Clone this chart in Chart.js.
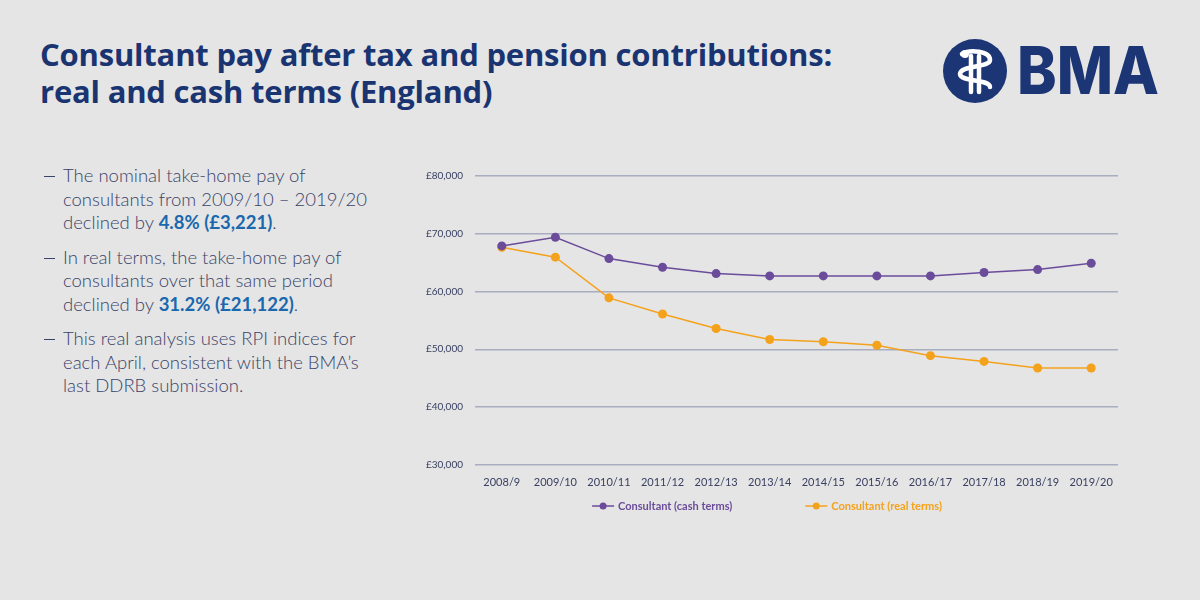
<!DOCTYPE html>
<html>
<head>
<meta charset="utf-8">
<script src="https://cdn.jsdelivr.net/npm/chart.js@4"></script>
<style>
  html, body { margin: 0; padding: 0; }
  body { width: 1200px; height: 600px; background: #e5e5e5; position: relative; overflow: hidden; font-family: Lato, "Open Sans", sans-serif; }
  h1 { position: absolute; left: 40px; top: 36px; margin: 0; font: 700 31px/37px "Open Sans", sans-serif; color: #1a3471; letter-spacing: -0.2px; }
  .notes { position: absolute; left: 42px; top: 164px; width: 340px; margin: 0; padding: 0; list-style: none; }
  .notes li { position: relative; padding-left: 21px; margin-bottom: 11px; font: 300 18.5px/23.5px Lato, sans-serif; color: #3a4368; }
  .notes li::before { content: ""; position: absolute; left: 2px; top: 12px; width: 11px; height: 1.3px; background: #3a4368; }
  .notes b { font-weight: 700; color: #1a68ad; }
  #logo { position: absolute; left: 940px; top: 36px; }
  #wrap { position: absolute; left: 400px; top: 150px; width: 740px; height: 390px; }
</style>
</head>
<body>
<h1>Consultant pay after tax and pension contributions:<br>real and cash terms (England)</h1>
<ul class="notes">
  <li>The nominal take-home pay of consultants from 2009/10 – 2019/20 declined by <b>4.8% (£3,221)</b>.</li>
  <li>In real terms, the take-home pay of consultants over that same period declined by <b>31.2% (£21,122)</b>.</li>
  <li>This real analysis uses RPI indices for each April, consistent with the BMA’s last DDRB submission.</li>
</ul>
<svg id="logo" width="225" height="72" viewBox="0 0 225 72">
  <circle cx="35" cy="35" r="32" fill="#1c3574"/>
  <g fill="none" stroke="#fff" stroke-width="4.5" stroke-linecap="round">
    <line x1="31" y1="20" x2="31" y2="56"/>
    <line x1="39" y1="20" x2="39" y2="56"/>
    <path d="M22 18 C 30 13, 50 15, 50 24 C 50 32, 20 29, 20 38 C 20 46, 50 43, 50 51"/>
  </g>
  <circle cx="25" cy="18" r="4" fill="#fff"/>
  <text x="77" y="58" font-family="Inter, sans-serif" font-weight="800" font-size="66" fill="#1c3574" textLength="142" lengthAdjust="spacingAndGlyphs">BMA</text>
</svg>
<div id="wrap"><canvas id="chart"></canvas></div>
<script>
const years = ['2008/9', '2009/10', '2010/11', '2011/12', '2012/13', '2013/14', '2014/15', '2015/16', '2016/17', '2017/18', '2018/19', '2019/20'];
const cashTerms = [67900, 69400, 65700, 64200, 63100, 62700, 62700, 62700, 62700, 63300, 63800, 64900];
const realTerms = [67650, 65950, 58900, 56100, 53600, 51700, 51300, 50700, 48900, 47900, 46750, 46750];
const yTicks = [30000, 40000, 50000, 60000, 70000, 80000];

const purple = '#6b4c9a';
const orange = '#f4a21c';

// legend drawn under the plot: line-with-dot symbol, coloured text, wide gap
const bottomLegend = {
  id: 'bottomLegend',
  afterDraw(chart) {
    const c = chart.ctx;
    const y = 356;
    const gap = 73, sym = 22, symGap = 4;
    c.save();
    c.font = '700 11px Lato';
    c.textBaseline = 'middle';
    const items = chart.data.datasets.map(ds => ({ ds, w: sym + symGap + c.measureText(ds.label).width }));
    const total = items.reduce((s, it) => s + it.w, 0) + gap * (items.length - 1);
    let x = 367 - total / 2;
    items.forEach(it => {
      const col = it.ds.borderColor;
      c.strokeStyle = col; c.fillStyle = col; c.lineWidth = 1.5;
      c.beginPath(); c.moveTo(x, y); c.lineTo(x + sym, y); c.stroke();
      c.beginPath(); c.arc(x + sym / 2, y, 3.5, 0, Math.PI * 2); c.fill();
      c.fillText(it.ds.label, x + sym + symGap, y);
      x += it.w + gap;
    });
    c.restore();
  }
};

const ctx = document.getElementById('chart').getContext('2d');
new Chart(ctx, {
  type: 'line',
  data: {
    labels: years,
    datasets: [{
      label: 'Consultant (cash terms)',
      data: cashTerms,
      borderColor: purple,
      backgroundColor: purple,
      borderWidth: 1.5,
      pointRadius: 4.5,
      pointBorderWidth: 0,
      tension: 0
    }, {
      label: 'Consultant (real terms)',
      data: realTerms,
      borderColor: orange,
      backgroundColor: orange,
      borderWidth: 1.5,
      pointRadius: 4.5,
      pointBorderWidth: 0,
      tension: 0
    }]
  },
  options: {
    responsive: true,
    maintainAspectRatio: false,
    animation: false,
    layout: { padding: { top: 26, right: 22, left: 0, bottom: 40 } },
    scales: {
      x: {
        offset: true,
        grid: { display: false, drawTicks: false },
        border: { display: false },
        ticks: { color: '#3a4062', padding: 11, maxRotation: 0, font: { family: 'Lato', size: 11 } }
      },
      y: {
        min: 30000,
        max: 80000,
        afterFit(scale) { scale.width = 75; },
        afterBuildTicks(scale) { scale.ticks = yTicks.map(v => ({ value: v })); },
        grid: { color: '#a8adbf', lineWidth: 1.5, drawTicks: false },
        border: { display: false },
        ticks: {
          color: '#3a4062',
          padding: 12,
          font: { family: 'Lato', size: 10 },
          callback: v => '£' + v.toLocaleString('en-GB')
        }
      }
    },
    plugins: {
      legend: { display: false },
      tooltip: { enabled: false }
    }
  },
  plugins: [bottomLegend]
});
</script>
</body>
</html>
